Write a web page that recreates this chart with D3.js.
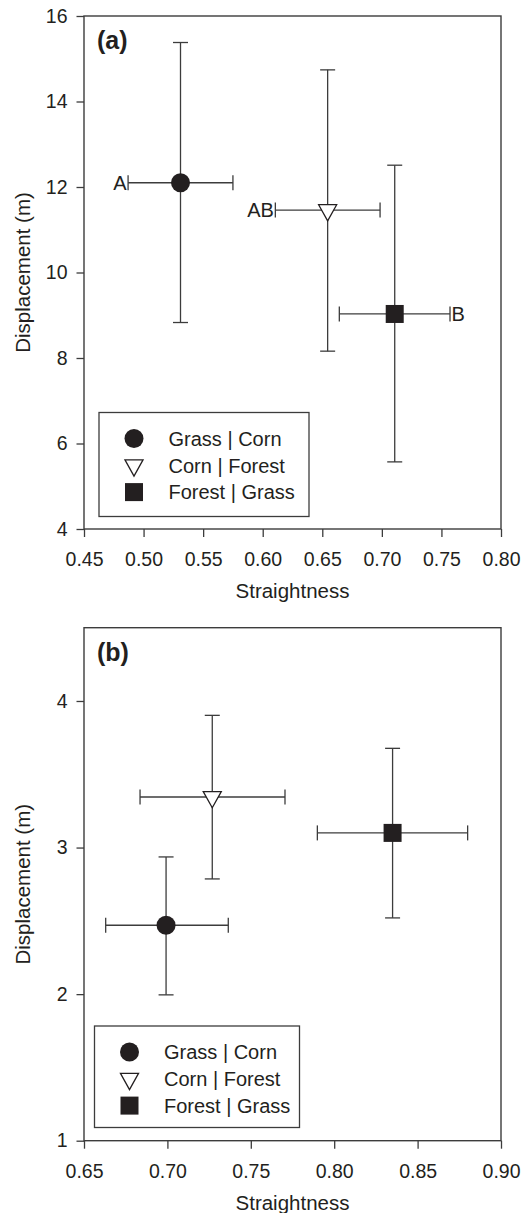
<!DOCTYPE html>
<html>
<head>
<meta charset="utf-8">
<script src="https://cdn.jsdelivr.net/npm/d3@7"></script>
<style>
  body { margin: 0; background: #fff; }
  svg { display: block; font-family: "Liberation Sans", Arial, sans-serif; }
</style>
</head>
<body>
<svg width="528" height="1213"></svg>
<script>
// groups shared by both panels
var groups = ['Grass | Corn', 'Corn | Forest', 'Forest | Grass']
var shapes = ['circle', 'triangle', 'square']

// panel (a)
var a_straight = [0.531, 0.6545, 0.7108]
var a_straight_lo = [0.487, 0.6106, 0.6643]
var a_straight_hi = [0.575, 0.6985, 0.7572]
var a_disp = [12.10, 11.46, 9.03]
var a_disp_lo = [8.83, 8.16, 5.57]
var a_disp_hi = [15.38, 14.74, 12.51]
var a_letters = ['A', 'AB', 'B']
var a_letter_side = ['left', 'left', 'right']
var a_xticks = [0.45, 0.50, 0.55, 0.60, 0.65, 0.70, 0.75, 0.80]
var a_yticks = [4, 6, 8, 10, 12, 14, 16]

// panel (b)
var b_straight = [0.6992, 0.7269, 0.835]
var b_straight_lo = [0.663, 0.6836, 0.7899]
var b_straight_hi = [0.7365, 0.7705, 0.880]
var b_disp = [2.47, 3.345, 3.10]
var b_disp_lo = [1.995, 2.786, 2.52]
var b_disp_hi = [2.936, 3.902, 3.677]
var b_xticks = [0.65, 0.70, 0.75, 0.80, 0.85, 0.90]
var b_yticks = [1, 2, 3, 4]

var ink = '#231f20',
	line_col = '#3c3c3c'

var svg = d3.select('svg')

draw_panel({
	label: '(a)', top: 16, xdom: [0.45, 0.80], ydom: [4, 16],
	xticks: a_xticks, yticks: a_yticks,
	x: a_straight, xlo: a_straight_lo, xhi: a_straight_hi,
	y: a_disp, ylo: a_disp_lo, yhi: a_disp_hi,
	letters: a_letters, sides: a_letter_side,
	legend: { x: 99, y: 412.5, w: 210, h: 104 }
})

draw_panel({
	label: '(b)', top: 627.7, xdom: [0.65, 0.90], ydom: [1, 4.5],
	xticks: b_xticks, yticks: b_yticks,
	x: b_straight, xlo: b_straight_lo, xhi: b_straight_hi,
	y: b_disp, ylo: b_disp_lo, yhi: b_disp_hi,
	letters: null,
	legend: { x: 94.5, y: 1026, w: 205, h: 101.5 }
})

function marker(g, shape, size) {
	if(shape === 'circle')
		g.append('circle').attr('r', size / 2).attr('fill', ink)
	else if(shape === 'square')
		g.append('rect').attr('x', -size / 2 + 0.5).attr('y', -size / 2 + 0.5)
			.attr('width', size - 1).attr('height', size - 1).attr('fill', ink)
	else {
		var w = size * 0.95, h = size * 0.85
		g.append('path')
			.attr('d', 'M' + (-w / 2) + ',' + (-h / 3) + 'L' + (w / 2) + ',' + (-h / 3) + 'L0,' + (2 * h / 3) + 'Z')
			.attr('fill', '#fff').attr('stroke', ink).attr('stroke-width', 1.3)
	}
}

function draw_panel(p) {
	var left = 84, right = 501, h = 513
	var x = d3.scaleLinear().domain(p.xdom).range([left, right]),
		y = d3.scaleLinear().domain(p.ydom).range([p.top + h, p.top])

	var g = svg.append('g')

	// frame
	g.append('rect')
		.attr('x', left).attr('y', p.top)
		.attr('width', right - left).attr('height', h)
		.attr('fill', 'none').attr('stroke', line_col).attr('stroke-width', 1.4)

	var xa = g.append('g')
		.attr('transform', 'translate(0,' + (p.top + h) + ')')
		.call(d3.axisBottom(x).tickValues(p.xticks).tickFormat(d3.format('.2f'))
			.tickSize(8).tickSizeOuter(0).tickPadding(15))
	var ya = g.append('g')
		.attr('transform', 'translate(' + left + ',0)')
		.call(d3.axisLeft(y).tickValues(p.yticks).tickFormat(d3.format('d'))
			.tickSize(7.5).tickSizeOuter(0).tickPadding(9))

	;[xa, ya].forEach(function(ax) {
		ax.select('.domain').remove()
		ax.selectAll('line').attr('stroke', line_col).attr('stroke-width', 1.3)
		ax.selectAll('text').attr('fill', ink).style('font-size', '19.5px')
			.style('font-family', '"Liberation Sans", Arial, sans-serif')
	})

	// axis titles
	g.append('text')
		.attr('x', (left + right) / 2).attr('y', p.top + h + 69)
		.attr('text-anchor', 'middle').attr('fill', ink).style('font-size', '20.5px')
		.text('Straightness')
	g.append('text')
		.attr('transform', 'translate(30,' + (p.top + h / 2) + ') rotate(-90)')
		.attr('text-anchor', 'middle').attr('fill', ink).style('font-size', '20.5px')
		.text('Displacement (m)')

	// panel label
	g.append('text')
		.attr('x', 97).attr('y', p.top + 33)
		.attr('fill', ink).style('font-size', '25px').style('font-weight', 'bold')
		.text(p.label)

	var cap = 7.5
	var idx = d3.range(groups.length)
	var bars = g.append('g').attr('stroke', line_col).attr('stroke-width', 1.3)

	idx.forEach(function(i) {
		var cx = x(p.x[i]), cy = y(p.y[i])
		// vertical
		bars.append('line').attr('x1', cx).attr('x2', cx).attr('y1', y(p.ylo[i])).attr('y2', y(p.yhi[i]))
		bars.append('line').attr('x1', cx - cap).attr('x2', cx + cap).attr('y1', y(p.ylo[i])).attr('y2', y(p.ylo[i]))
		bars.append('line').attr('x1', cx - cap).attr('x2', cx + cap).attr('y1', y(p.yhi[i])).attr('y2', y(p.yhi[i]))
		// horizontal
		bars.append('line').attr('y1', cy).attr('y2', cy).attr('x1', x(p.xlo[i])).attr('x2', x(p.xhi[i]))
		bars.append('line').attr('y1', cy - cap).attr('y2', cy + cap).attr('x1', x(p.xlo[i])).attr('x2', x(p.xlo[i]))
		bars.append('line').attr('y1', cy - cap).attr('y2', cy + cap).attr('x1', x(p.xhi[i])).attr('x2', x(p.xhi[i]))
	})

	idx.forEach(function(i) {
		var m = g.append('g').attr('transform', 'translate(' + x(p.x[i]) + ',' + y(p.y[i]) + ')')
		marker(m, shapes[i], 19)
	})

	if(p.letters) idx.forEach(function(i) {
		var onLeft = p.sides[i] === 'left'
		g.append('text')
			.attr('x', onLeft ? x(p.xlo[i]) - 1.5 : x(p.xhi[i]) + 1.5)
			.attr('y', y(p.y[i])).attr('dy', '0.36em')
			.attr('text-anchor', onLeft ? 'end' : 'start')
			.attr('fill', ink).style('font-size', '20px')
			.text(p.letters[i])
	})

	// legend
	var L = p.legend
	g.append('rect').attr('x', L.x).attr('y', L.y).attr('width', L.w).attr('height', L.h)
		.attr('fill', '#fff').attr('stroke', line_col).attr('stroke-width', 1.3)
	idx.forEach(function(i) {
		var ry = L.y + 26 + i * 26.8
		var m = g.append('g').attr('transform', 'translate(' + (L.x + 35) + ',' + ry + ')')
		marker(m, shapes[i], 19)
		g.append('text').attr('x', L.x + 69.5).attr('y', ry).attr('dy', '0.36em')
			.attr('fill', ink).style('font-size', '20px').text(groups[i])
	})
}
</script>
</body>
</html>
